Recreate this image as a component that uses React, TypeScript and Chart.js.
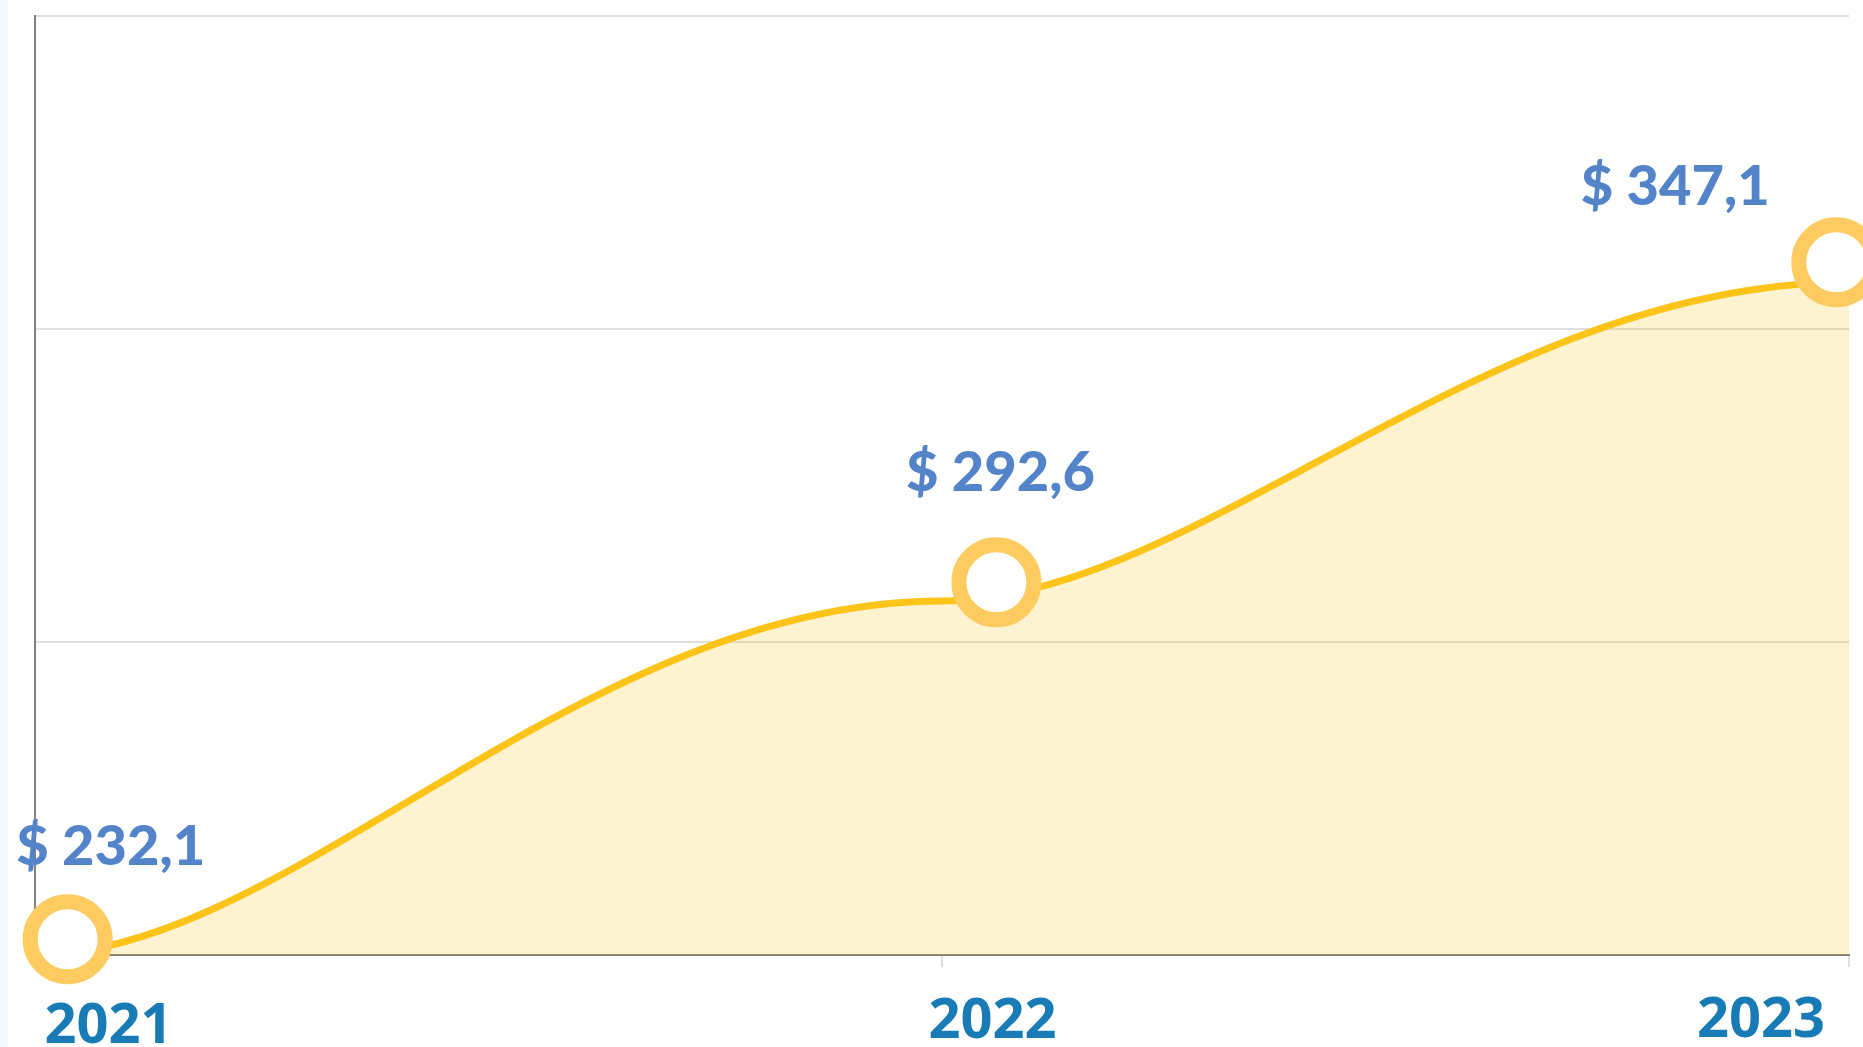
import React, { useEffect, useRef } from 'react';
import { Chart, registerables } from 'chart.js';

Chart.register(...registerables);

// ---- data ----
const YEARS = [2021, 2022, 2023];
const TICK_LABELS = ['2021', '2022', '2023'];
const VALUES = [232.1, 292.6, 347.1];
// marker rings (they sit slightly off the curve)
const MARKER_X = [2021.036, 2022.06, 2022.986];
const MARKER_Y = [234.8, 295.8, 350.5];
const Y_MIN = 232.1;
const Y_MAX = 392.6;

// ---- layout / style ----
const VALUE_LABEL_OFFSETS = [
  [43, -74],
  [4, -91],
  [-161, -57],
];
const TICK_LABEL_OFFSETS = [
  [73.5, 88],
  [50.5, 83],
  [-88, 82],
];
const HANDLE_OUT = 0.28;
const HANDLE_IN = 0.4;

const fmt = (v: number) => '$ ' + v.toFixed(1).replace('.', ',');

const bumpCurve = {
  id: 'bumpCurve',
  afterDatasetsUpdate(chart: any) {
    const meta = chart.getDatasetMeta(0);
    const line = meta.dataset;
    const pts = meta.data;
    if (!line || !pts || !pts.length) return;
    line.updateControlPoints(chart.chartArea, 'x');
    for (let i = 0; i < pts.length; i++) {
      const p = pts[i];
      const prev = pts[i - 1];
      const next = pts[i + 1];
      p.cp1x = prev ? p.x - (p.x - prev.x) * HANDLE_IN : p.x;
      p.cp1y = p.y;
      p.cp2x = next ? p.x + (next.x - p.x) * HANDLE_OUT : p.x;
      p.cp2y = p.y;
    }
    delete line._path;
  },
};

const labelsPlugin = {
  id: 'customLabels',
  afterDraw(chart: any) {
    const ctx = chart.ctx;
    const xScale = chart.scales.x;
    const area = chart.chartArea;
    const markers = chart.getDatasetMeta(1).data;
    ctx.save();
    ctx.textAlign = 'center';
    ctx.textBaseline = 'alphabetic';
    // value labels
    ctx.font = '900 56px Lato, "Open Sans", sans-serif';
    ctx.fillStyle = '#5383c8';
    VALUES.forEach((v, i) => {
      const m = markers[i];
      if (!m) return;
      const [dx, dy] = VALUE_LABEL_OFFSETS[i];
      ctx.fillText(fmt(v), m.x + dx, m.y + dy);
    });
    // year labels
    ctx.font = 'bold 56px "Open Sans", "Noto Sans", sans-serif';
    ctx.fillStyle = '#187bb5';
    TICK_LABELS.forEach((t, i) => {
      const [dx, dy] = TICK_LABEL_OFFSETS[i];
      ctx.fillText(t, xScale.getPixelForValue(YEARS[i]) + dx, area.bottom + dy);
    });
    ctx.restore();
  },
};

export default function App() {
  const ref = useRef<HTMLCanvasElement | null>(null);

  useEffect(() => {
    document.body.style.margin = '0';
    document.body.style.background = '#f7f8fe';
    if (!ref.current) return;
    const chart = new Chart(ref.current, {
      type: 'line',
      data: {
        datasets: [
          {
            label: 'value',
            data: YEARS.map((x, i) => ({ x, y: VALUES[i] })),
            borderColor: '#fcc419',
            borderWidth: 7,
            backgroundColor: 'rgba(252,196,25,0.2)',
            fill: 'start',
            tension: 0.4,
            pointRadius: 0,
            pointHoverRadius: 0,
            order: 1,
          },
          {
            label: 'markers',
            data: MARKER_X.map((x, i) => ({ x, y: MARKER_Y[i] })),
            showLine: false,
            pointRadius: 37.5,
            pointHoverRadius: 37.5,
            pointBorderWidth: 15,
            pointBorderColor: '#fdcb5f',
            pointBackgroundColor: '#ffffff',
            clip: false as any,
            order: 0,
          },
        ],
      },
      options: {
        animation: false,
        responsive: true,
        maintainAspectRatio: false,
        layout: { autoPadding: false, padding: { left: 27, right: 14, top: 16, bottom: 80 } },
        plugins: { legend: { display: false }, tooltip: { enabled: false } },
        scales: {
          x: {
            type: 'linear',
            min: 2021,
            max: 2023,
            ticks: { display: false, stepSize: 1 },
            grid: { drawOnChartArea: false, drawTicks: true, tickLength: 12, color: '#dedede', lineWidth: 2 },
            border: { color: '#808080', width: 2 },
          },
          y: {
            min: Y_MIN,
            max: Y_MAX,
            ticks: { display: false, count: 4 },
            grid: { color: '#e0e0e0', lineWidth: 2, drawTicks: false },
            border: { color: '#808080', width: 2 },
          },
        },
      },
      plugins: [bumpCurve, labelsPlugin],
    });
    return () => chart.destroy();
  }, []);

  return (
    <div style={{ marginLeft: 8, width: 1855, height: 1047, background: '#ffffff', position: 'relative' }}>
      <canvas ref={ref} />
    </div>
  );
}
